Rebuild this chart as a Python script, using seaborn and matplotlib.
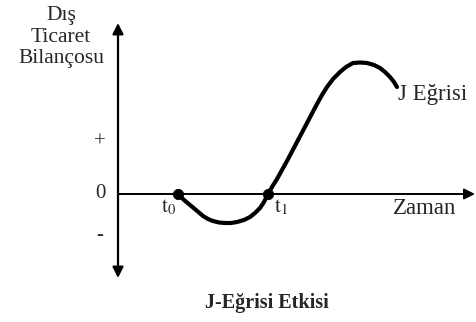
import matplotlib
matplotlib.use("Agg")
import matplotlib.pyplot as plt
import seaborn as sns
import pandas as pd

# J curve (time vs. trade balance)
time = [6.0, 6.6, 7.2, 7.8, 8.5, 9.0, 9.5, 10.1, 10.7, 11.3, 11.9, 12.6,
        13.2, 13.7, 14.2, 14.6, 15.0, 15.4, 15.9, 16.4, 16.9, 17.9, 18.9,
        19.9, 20.4, 20.9, 21.5, 22.2, 22.8, 23.5, 24.2, 24.9, 25.6, 26.2,
        26.7, 27.2, 27.6, 27.9]
balance = [0.0, -0.6, -1.1, -1.6, -2.2, -2.5, -2.7, -2.85, -2.9, -2.9, -2.8,
           -2.6, -2.3, -1.9, -1.4, -0.8, 0.0, 0.7, 1.5, 2.4, 3.3, 5.2, 7.1,
           9.0, 9.9, 10.7, 11.5, 12.2, 12.7, 13.1, 13.15, 13.1, 12.9, 12.6,
           12.2, 11.7, 11.2, 10.7]
t_points = [6.0, 15.0]
t_labels = [r"$\mathrm{t}_0$", r"$\mathrm{t}_1$"]
ytick_vals = [5.2, 0.0, -4.1]
ytick_labels = ["+", "0", "-"]

df = pd.DataFrame({"time": time, "balance": balance})
dots = pd.DataFrame({"time": t_points, "balance": [0.0, 0.0]})

sns.set_style("white")
plt.rcParams["font.family"] = ["Liberation Serif", "DejaVu Serif"]
plt.rcParams["mathtext.fontset"] = "stix"

fig = plt.figure(figsize=(4.76, 3.22), dpi=100)
ax = fig.add_axes([0, 0, 1, 1])

# axes with arrows
ax.annotate("", xy=(0, 17.1), xytext=(0, -8.4),
            arrowprops=dict(arrowstyle="<|-|>", lw=1.6, color="black",
                            mutation_scale=16, shrinkA=0, shrinkB=0))
ax.annotate("", xy=(35.7, 0), xytext=(0, 0),
            arrowprops=dict(arrowstyle="-|>", lw=1.4, color="black",
                            mutation_scale=16, shrinkA=0, shrinkB=0))

sns.lineplot(data=df, x="time", y="balance", sort=False, color="black",
             lw=3.0, ax=ax, solid_capstyle="round", solid_joinstyle="round")
sns.scatterplot(data=dots, x="time", y="balance", color="black", s=55,
                edgecolor="black", ax=ax, zorder=5)
ax.set_xlim(-11.8, 35.8)
ax.set_ylim(-12.8, 19.4)
ax.axis("off")

for v, lab in zip(ytick_vals, ytick_labels):
    ax.text(-1.8, v, lab, ha="center", va="center", fontsize=15)

for t, lab, dx in zip(t_points, t_labels, [-0.9, 1.3]):
    ax.text(t + dx, -1.3, lab, ha="center", va="center", fontsize=15)

ax.text(-5.7, 15.7, "Dış\nTicaret\nBilançosu", ha="center", va="center",
        multialignment="center", fontsize=15.5, linespacing=1.2)
ax.text(27.5, -1.4, "Zaman", ha="left", va="center", fontsize=16.5)
ax.text(28.0, 10.0, "J Eğrisi", ha="left", va="center", fontsize=16.5)
ax.text(14.9, -10.9, "J-Eğrisi Etkisi", ha="center", va="center",
        fontsize=14.5, fontweight="bold")

fig.savefig("out.png", dpi=100)
